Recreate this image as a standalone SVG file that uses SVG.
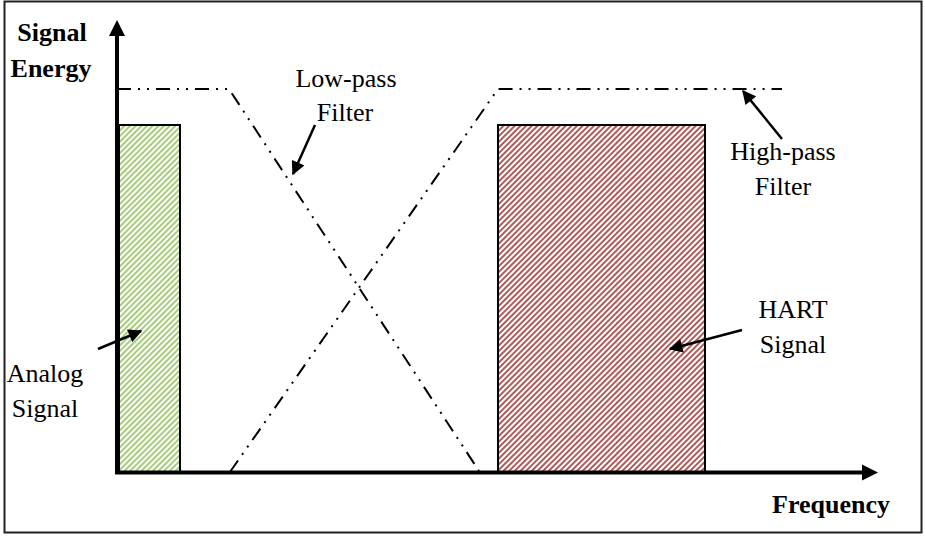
<svg xmlns="http://www.w3.org/2000/svg" width="925" height="536" viewBox="0 0 925 536">
<style>
  .lbl { font-family: "Liberation Serif", "Times New Roman", serif; font-size: 26px; fill: #000; text-anchor: middle; }
  .bold { font-weight: bold; }
  .axis { stroke: #000; stroke-width: 4; fill: none; }
  .filter { stroke: #000; stroke-width: 2; fill: none; stroke-dasharray: 14 7 2 7 2 7; }
  .ptr { stroke: #000; stroke-width: 2.5; fill: none; marker-end: url(#head); }
  .box { stroke: #000; stroke-width: 2; }
  .seam { stroke-width: 1; opacity: 0.35; stroke-dasharray: 3 2; }
</style>
<defs>
  <pattern id="greenHatch" patternUnits="userSpaceOnUse" width="4" height="4" patternTransform="rotate(45)">
    <rect width="4" height="4" fill="#fff"/>
    <line x1="1" y1="0" x2="1" y2="4" stroke="#a6cc7c" stroke-width="2"/>
  </pattern>
  <pattern id="redHatch" patternUnits="userSpaceOnUse" width="4" height="4" patternTransform="rotate(45)">
    <rect width="4" height="4" fill="#fff"/>
    <line x1="1" y1="0" x2="1" y2="4" stroke="#b05a5a" stroke-width="2"/>
  </pattern>
  <marker id="head" viewBox="0 0 10 10" refX="9" refY="5" markerWidth="6" markerHeight="5.5" markerUnits="strokeWidth" orient="auto">
    <path d="M0,0 L10,5 L0,10 z" fill="#000"/>
  </marker>
</defs>
<rect x="4.5" y="1.5" width="917" height="531" fill="#fff" stroke="#222" stroke-width="2"/>

<g id="analog-band">
  <rect class="box" x="119" y="125" width="61" height="347" fill="url(#greenHatch)"/>
  <line class="seam" x1="120" y1="172" x2="179" y2="172" stroke="#a6cc7c"/>
  <line class="seam" x1="120" y1="343" x2="179" y2="343" stroke="#a6cc7c"/>
  <line class="seam" x1="120" y1="429" x2="179" y2="429" stroke="#a6cc7c"/>
</g>
<g id="hart-band">
  <rect class="box" x="498" y="125" width="207" height="347" fill="url(#redHatch)"/>
  <line class="seam" x1="499" y1="178" x2="704" y2="178" stroke="#b05a5a"/>
  <line class="seam" x1="499" y1="436" x2="704" y2="436" stroke="#b05a5a"/>
  <line class="seam" x1="617" y1="126" x2="617" y2="471" stroke="#b05a5a"/>
</g>

<g id="axes">
  <line class="axis" x1="117" y1="474" x2="117" y2="34"/>
  <path d="M117,20 L109,36 L125,36 z" fill="#000"/>
  <line class="axis" x1="115" y1="472.5" x2="864" y2="472.5"/>
  <path d="M878,472.5 L862,464.5 L862,480.5 z" fill="#000"/>
</g>

<g id="connectors">
  <path class="filter" d="M117,89 L229,89 L479,471"/>
  <path class="filter" d="M230,472 L498,89 L782,89"/>
  <line class="ptr" x1="315" y1="125" x2="293" y2="174"/>
  <line class="ptr" x1="782" y1="139" x2="743" y2="91"/>
  <line class="ptr" x1="98" y1="349" x2="141" y2="331"/>
  <line class="ptr" x1="742" y1="330" x2="670" y2="349"/>
</g>

<g id="label-signal-energy">
  <text class="lbl bold" x="52" y="41">Signal</text>
  <text class="lbl bold" x="51" y="77">Energy</text>
</g>
<g id="label-frequency">
  <text class="lbl bold" x="831" y="513">Frequency</text>
</g>
<g id="label-lowpass">
  <text class="lbl" x="346" y="87">Low-pass</text>
  <text class="lbl" x="345" y="121">Filter</text>
</g>
<g id="label-highpass">
  <text class="lbl" x="783" y="160">High-pass</text>
  <text class="lbl" x="783" y="195">Filter</text>
</g>
<g id="label-analog">
  <text class="lbl" x="45" y="382">Analog</text>
  <text class="lbl" x="45" y="417">Signal</text>
</g>
<g id="label-hart">
  <text class="lbl" x="793" y="318">HART</text>
  <text class="lbl" x="793" y="353">Signal</text>
</g>
</svg>
